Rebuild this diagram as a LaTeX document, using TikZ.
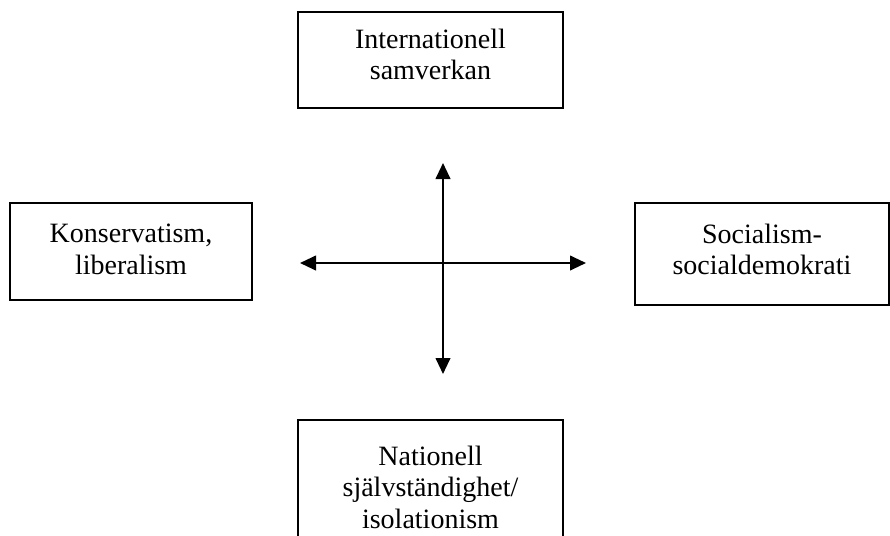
\documentclass[tikz,border=0pt]{standalone}
\usepackage{fontspec}
\setmainfont{Liberation Serif}
\usetikzlibrary{arrows.meta}
\tikzset{
  box/.style={draw=black, line width=1.6pt, rectangle, align=center, inner sep=0pt,
    font=\fontsize{21}{23.6}\selectfont},
  axis/.style={line width=1.5pt, {Triangle[length=12pt,width=11pt]}-{Triangle[length=12pt,width=11pt]}}
}
\begin{document}
\begin{tikzpicture}[x=0.75pt,y=-0.75pt]
\useasboundingbox (0,0) rectangle (890,536);
\node[box, minimum width=198.75pt, minimum height=72pt, text depth=8.7pt] (top) at (430.5,60) {Internationell\\samverkan};
\node[box, minimum width=181.5pt, minimum height=72.75pt, text depth=3.5pt] (left) at (131,251.5) {Konservatism,\\liberalism};
\node[box, minimum width=190.5pt, minimum height=76.5pt, text depth=7.2pt] (right) at (762,254) {Socialism-\\socialdemokrati};
\node[box, minimum width=198.75pt, minimum height=100.5pt] (bottom) at (430.5,487) {Nationell\\självständighet/\\isolationism};
\coordinate (N) at (443,163);
\coordinate (S) at (443,374);
\coordinate (W) at (300,263);
\coordinate (E) at (586,263);
\draw[axis] (N) -- (S);
\draw[axis] (W) -- (E);
\end{tikzpicture}
\end{document}
